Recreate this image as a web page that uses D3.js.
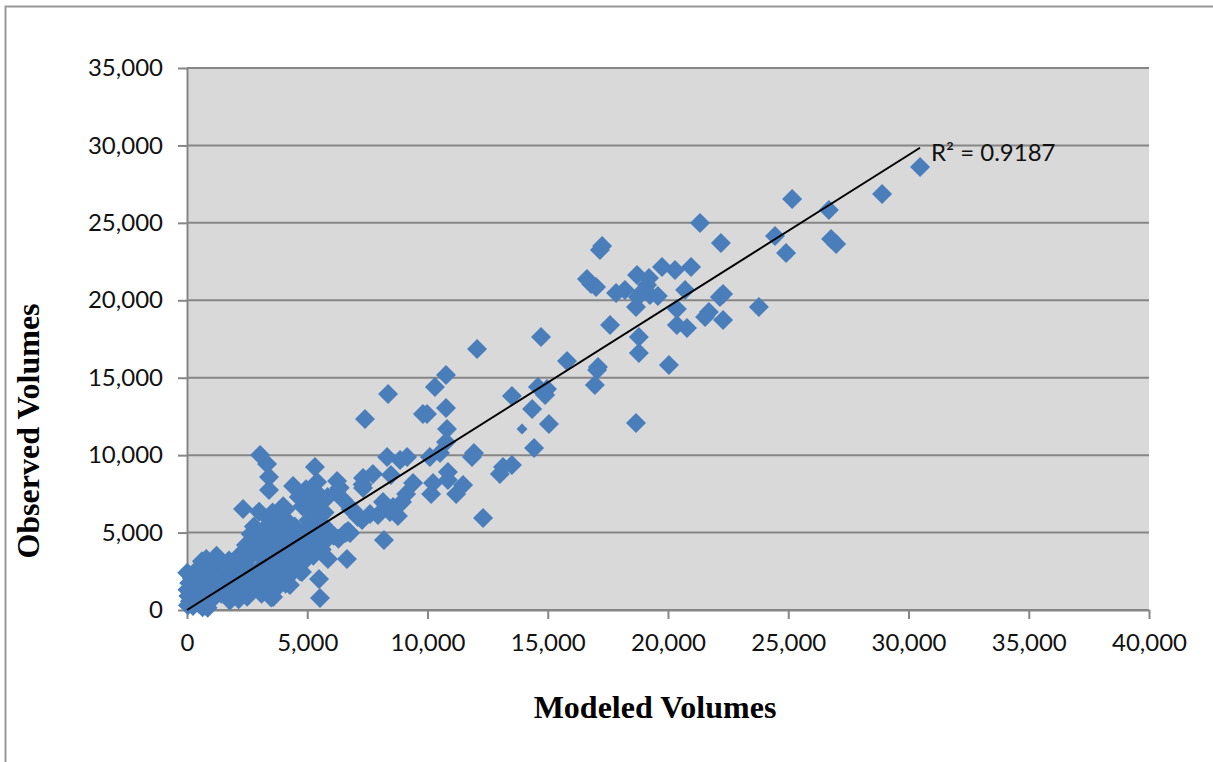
<!DOCTYPE HTML>
<html>
<head>
  <title>Observed vs Modeled Volumes</title>
  <script src="https://d3js.org/d3.v7.min.js"></script>
  <style>
    body { margin: 0; background: #fff; }
    svg { display: block; }
    .tick text { font-family: Lato, sans-serif; font-size: 24px; fill: #111; }
    .title { font-family: "Liberation Serif", serif; font-weight: bold; font-size: 32px; fill: #000; text-anchor: middle; }
  </style>
</head>
<body>
  <script>
    // modeled / observed pairs
    var modeled = [30480,28900,25160,26690,26780,26990,24910,24450,21330,22200,17260,17170,16630,16800,17010,17840,18210,18710,19210,19750,20290,20960,20710,22290,22160,23780,20370,21700,21540,22290,20370,20790,17590,18790,18790,20040,17090,17050,16960,18670,18920,19040,19250,19580,18750,19130,18670,
      15800,14720,12060,10770,10310,8360,7400,9980,9810,10770,13510,14590,14970,14890,14350,15050,14430,10810,10770,10520,10100,11930,11850,8320,8860,9150,8480,7730,7320,7320,10850,10850,10230,10150,11480,11190,13140,13510,13010,9400,9110,8940,8150,8570,8770,7610,7940,7280,6900,8440,12310,8190,6780,
      3040,3330,3410,3410,2330,5320,5410,4410,6240,6650,5490,5530,5860,6570,6650,4280,3580,4780,
      40,60,20,90,10,120,150,200,250,280,300,340,420,450,500,540,560,620,650,680,700,760,800,820,860,900,950,980,1040,1100,1150,1230,1270,1350,1400,1420,1500,1600,1650,1750,1780,1850,1950,2000,2050,2150,2200,2250,2350,2400,2450,2500,2560,2620,2650,2700,2780,2820,2880,2950,3000,3020,3100,3120,3200,3300,3350,3400,3420,3500,3520,3560,3600,3650,3700,3750,3800,3850,3900,3950,4000,4050,4100,4120,4200,4230,4300,4100,
      4380,4420,4480,4600,4650,4700,4750,4800,4870,4900,4950,5000,5050,5100,5150,5200,5250,5300,5350,5400,5450,5500,5550,5600,5650,5720,5780,5850,5900,6100,6200,6300,6350,6500,6700,6800,7100,7300];
    var observed = [28610,26860,26540,25830,23960,23630,23050,24150,24990,23700,23500,23250,21370,21050,20860,20470,20660,21630,21440,22150,21950,22150,20660,20400,20210,19570,19440,19240,18920,18730,18400,18210,18400,17630,16590,15820,15690,15500,14530,19570,20530,20660,20340,20280,20210,20990,12070,
      16080,17630,16850,15170,14400,13950,12330,12660,12660,13040,13820,14400,14270,13880,12980,12010,10460,11690,10850,10140,9880,10140,9880,9880,9690,9880,8720,8780,8520,7880,8910,8390,8200,7490,8070,7490,9230,9360,8780,8200,7490,6970,6970,6650,6070,6200,6130,5810,6460,6330,5940,4520,4970,
      10010,9430,8590,7750,6520,9230,8270,8010,8330,3290,2000,770,3290,4970,5040,1610,840,2450,
      300,900,1300,1750,2400,560,1250,2050,260,1500,800,2300,1100,1900,400,2800,1450,3150,170,700,2250,1200,3300,1850,140,2700,600,1400,3000,2200,850,3500,1600,2650,3050,1050,2100,2800,1350,3200,620,1900,2550,1100,3300,700,2100,3650,1500,2900,4200,850,2300,3400,4900,1300,5400,3800,1900,4500,6350,2700,1050,5100,3300,4050,1600,5900,2300,800,4700,6300,3100,1300,5300,3700,2000,6000,4400,2700,6700,5000,1700,3400,5700,4000,2300,6500,
      4700,3000,5400,3700,7300,2500,4400,6700,5100,3200,7800,3900,5800,4600,6400,7200,3500,5200,4200,6000,7500,4800,6900,3900,5500,6300,4500,7300,5100,4800,7600,4600,7900,7100,5100,6500,6000,8100];
    // the one smaller marker in the picture
    var smallModeled = [13930];
    var smallObserved = [11690];
    var trendX = [0, 30480];
    var trendY = [0, 29850];
    var xTicks = [0,5000,10000,15000,20000,25000,30000,35000,40000];
    var yTicks = [0,5000,10000,15000,20000,25000,30000,35000];

    var width = 1213, height = 762;
    var left = 187, right = 1149, top_ = 68, bottom = 610;
    var blue = "#4a7ebb", gridCol = "#868686";

    var x = d3.scaleLinear().domain([0, 40000]).range([left, right]);
    var y = d3.scaleLinear().domain([0, 35000]).range([bottom, top_]);

    var svg = d3.select("body").append("svg")
      .attr("width", width)
      .attr("height", height);

    // frame, only left and top edges are visible in the picture
    svg.append("path")
      .attr("d", "M5.5," + height + "V6.5H" + width)
      .attr("fill", "none")
      .attr("stroke", "#999")
      .attr("stroke-width", 2);

    svg.append("rect")
      .attr("x", left)
      .attr("y", top_)
      .attr("width", right - left)
      .attr("height", bottom - top_)
      .attr("fill", "#d9d9d9");

    // gridlines
    svg.append("g")
      .selectAll("line")
      .data(yTicks)
      .enter()
      .append("line")
      .attr("x1", left)
      .attr("x2", right)
      .attr("y1", function(d) { return y(d); })
      .attr("y2", function(d) { return y(d); })
      .attr("stroke", gridCol)
      .attr("stroke-width", 2);

    var xAxis = svg.append("g")
      .attr("transform", "translate(0," + bottom + ")")
      .call(d3.axisBottom(x).tickValues(xTicks).tickFormat(d3.format(",")).tickSize(9).tickSizeOuter(0).tickPadding(15));
    var yAxis = svg.append("g")
      .attr("transform", "translate(" + left + ",0)")
      .call(d3.axisLeft(y).tickValues(yTicks).tickFormat(d3.format(",")).tickSize(9).tickSizeOuter(0).tickPadding(15));
    svg.selectAll(".domain, .tick line")
      .attr("stroke", gridCol)
      .attr("stroke-width", 2);

    var square = d3.symbol().type(d3.symbolSquare);

    svg.append("g")
      .selectAll("path")
      .data(d3.range(modeled.length))
      .enter()
      .append("path")
      .attr("d", square.size(200)())
      .attr("transform", function(i) {
        return "translate(" + x(modeled[i]) + "," + y(observed[i]) + ") rotate(45)";
      })
      .attr("fill", blue);

    svg.append("g")
      .selectAll("path")
      .data(d3.range(smallModeled.length))
      .enter()
      .append("path")
      .attr("d", square.size(60)())
      .attr("transform", function(i) {
        return "translate(" + x(smallModeled[i]) + "," + y(smallObserved[i]) + ") rotate(45)";
      })
      .attr("fill", blue);

    // trendline
    svg.append("line")
      .attr("x1", x(trendX[0]))
      .attr("y1", y(trendY[0]))
      .attr("x2", x(trendX[1]))
      .attr("y2", y(trendY[1]))
      .attr("stroke", "#000")
      .attr("stroke-width", 2);

    svg.append("text")
      .attr("x", 931)
      .attr("y", 161)
      .style("font-family", "Lato, sans-serif")
      .style("font-size", "24px")
      .style("fill", "#111")
      .text("R² = 0.9187");

    svg.append("text")
      .attr("class", "title")
      .attr("x", 655)
      .attr("y", 718)
      .text("Modeled Volumes");

    svg.append("text")
      .attr("class", "title")
      .attr("transform", "translate(39,431) rotate(-90)")
      .text("Observed Volumes");
  </script>
</body>
</html>
